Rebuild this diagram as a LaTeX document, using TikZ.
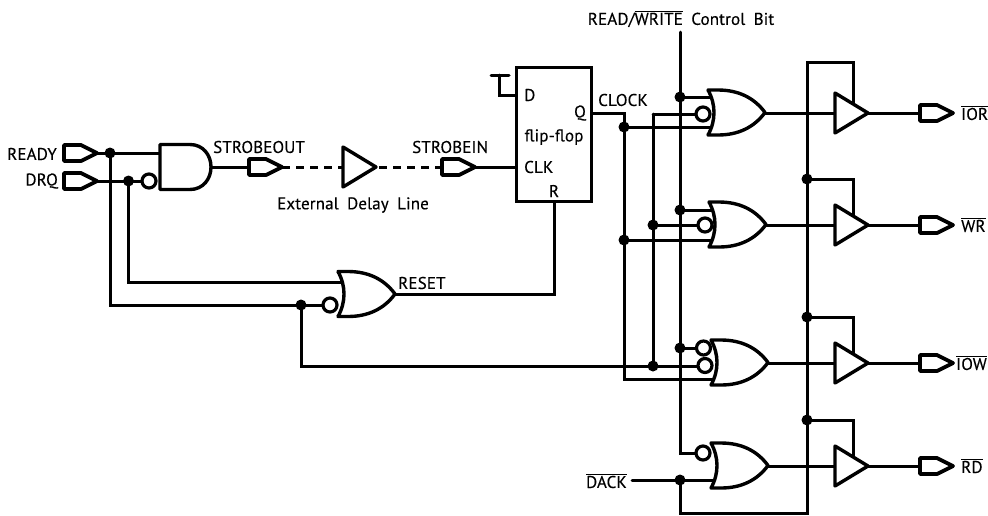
\documentclass[tikz,border=0pt]{standalone}
\usepackage{fontspec}
\setmainfont[LetterSpace=0.8,WordSpace=1.8,FakeBold=0.25]{PT Sans}
\newcommand{\ovl}[1]{\ensuremath{\overline{\mbox{#1}}}}
\tikzset{
  x=1pt,y=-1pt,
  wire/.style={line width=3pt,line cap=round,line join=miter},
  dashwire/.style={line width=3pt,dash pattern=on 8pt off 6pt},
  gateline/.style={line width=3.4pt,line join=round,line cap=round,fill=white},
  portline/.style={line width=3.8pt,line join=round,fill=white},
  jdot/.style={circle,fill=black,inner sep=0pt,minimum size=11pt},
  bub/.style={circle,draw=black,fill=white,line width=3.2pt,inner sep=0pt,minimum size=14pt},
  lbl/.style={inner sep=0pt,font=\fontsize{17}{19}\selectfont},
  orgate/.pic={
    \draw[gateline] (0,-22.5) -- (10,-22.5) .. controls (30,-22.5) and (46,-15) .. (57,0)
       .. controls (46,15) and (30,22.5) .. (10,22.5) -- (0,22.5)
       .. controls (8,8) and (8,-8) .. cycle;
    \coordinate (-out) at (57,0);
  },
  pics/andgate/.style={code={
    \draw[gateline] (0,-22.5) -- (30,-22.5) .. controls (43,-22.5) and (51,-12) .. (51,0)
       .. controls (51,12) and (43,22.5) .. (30,22.5) -- (0,22.5) -- cycle;
    \coordinate (-out) at (51,0);
  }},
  pics/buffer/.style={code={
    \draw[gateline] (0,-20) -- (33,0) -- (0,20) -- cycle;
    \coordinate (-in) at (0,0);
    \coordinate (-out) at (33,0);
  }},
  pics/port/.style={code={
    \draw[portline] (0,-8) -- (17,-8) -- (33,0) -- (17,8) -- (0,8) -- cycle;
    \coordinate (-in) at (0,0);
    \coordinate (-out) at (33,0);
  }},
}
\begin{document}
\begin{tikzpicture}
\useasboundingbox (0,0) rectangle (988,515);
% named points
\coordinate (jReady) at (110,153);
\coordinate (jDrq) at (128.5,181);
\coordinate (jRst) at (301,305);
\coordinate (topRW) at (680,32);
\coordinate (j1a) at (680,97);
\coordinate (j2a) at (680,210);
\coordinate (j3a) at (680,348);
\coordinate (j4b) at (680,480);
\coordinate (jC1) at (624,127);
\coordinate (jC2) at (624,240);
\coordinate (jN2) at (653,225);
\coordinate (jN3) at (653,366);
\coordinate (busTop) at (807,62);
\coordinate (busBot) at (807,513);
\coordinate (jE2) at (807,179);
\coordinate (jE3) at (807,317);
\coordinate (jE4) at (807,420);
\coordinate (dackEnd) at (632,480);
% wires
\draw[wire] (97,153) -- (160,153);
\draw[wire] (97,181) -- (142,181);
\draw[wire] (jReady) |- (jRst) -- (323,305);
\draw[wire] (jDrq) |- (342,282);
\draw[wire] (jRst) |- (698,366);
\draw[wire] (211,167) -- (248,167);
\draw[dashwire] (282,167) -- (343,167);
\draw[dashwire] (379,167) -- (441,167);
\draw[wire] (474,167) -- (516,167);
\draw[wire] (395,294) -- (554,294) -- (554,202);
\draw[wire] (516,95) -- (499,95) -- (499,75);
\draw[wire] (491,75) -- (509,75);
\draw[wire] (592,113) -- (624,113) -- (624,379) -- (714,379);
\draw[wire] (jC1) -- (714,127);
\draw[wire] (jC2) -- (714,240);
\draw[wire] (653,114) -- (653,366);
\draw[wire] (653,114) -- (696,114);
\draw[wire] (jN2) -- (698,225);
\draw[wire] (topRW) |- (696,453);
\draw[wire] (j1a) -- (712,97);
\draw[wire] (j2a) -- (712,210);
\draw[wire] (j3a) -- (696,348);
\draw[wire] (dackEnd) -- (714,480);
\draw[wire] (j4b) |- (busBot) -- (busTop) -| (853,104);
\draw[wire] (jE2) -| (853,215);
\draw[wire] (jE3) -| (853,353);
\draw[wire] (jE4) -| (853,456);
\draw[wire] (765,113) -- (835,113) (868,113) -- (920,113);
\draw[wire] (766,225) -- (835,225) (868,225) -- (920,225);
\draw[wire] (768,363) -- (835,363) (868,363) -- (920,363);
\draw[wire] (768,466) -- (835,466) (868,466) -- (920,466);
% gates
\pic (gAnd) at (160,167) {andgate};
\pic (gRst) at (338,294) {orgate};
\pic (g1) at (708,112.5) {orgate};
\pic (g2) at (709,224.5) {orgate};
\pic (g3) at (711,362.5) {orgate};
\pic (g4) at (711,465.5) {orgate};
\pic (bDelay) at (343,167) {buffer};
\pic (b1) at (835,113) {buffer};
\pic (b2) at (835,225) {buffer};
\pic (b3) at (835,363) {buffer};
\pic (b4) at (835,466) {buffer};
\pic (pReady) at (64,153) {port};
\pic (pDrq) at (64,181) {port};
\pic (pOut) at (249,167) {port};
\pic (pIn) at (442,167) {port};
\pic (pIor) at (920,113) {port};
\pic (pWr) at (920,225) {port};
\pic (pIow) at (920,363) {port};
\pic (pRd) at (920,466) {port};
% flip-flop
\node[draw,line width=3.6pt,minimum width=75pt,minimum height=134pt,inner sep=0pt] (ff) at (554,134.5) {};
% bubbles
\node[bub] (bu0) at (149,181) {};
\node[bub] (bu1) at (330,305) {};
\node[bub] (bu2) at (703,114) {};
\node[bub] (bu3) at (705,225) {};
\node[bub] (bu4) at (703.5,348) {};
\node[bub] (bu5) at (705,365.5) {};
\node[bub] (bu6) at (703,453) {};
% junctions
\foreach \p in {jReady,jDrq,jRst,j1a,j2a,j3a,j4b,jC1,jC2,jN2,jN3,jE2,jE3,jE4}
  \node[jdot] at (\p) {};
% labels
\node[lbl,anchor=east] (tReady) at (57,154) {READY};
\node[lbl,anchor=east] (tDrq) at (58,181) {DRQ};
\node[lbl,anchor=west] (tOut) at (213,147) {STROBEOUT};
\node[lbl,anchor=west] (tIn) at (412,147) {STROBEIN};
\node[lbl,anchor=center] (tExt) at (353,205) {External Delay Line};
\node[lbl,anchor=west] (tD) at (524,95) {D};
\node[lbl,anchor=east] (tQ) at (586,113) {Q};
\node[lbl,anchor=center] (tFf) at (554,137) {flip-flop};
\node[lbl,anchor=west] (tClk) at (524,167) {CLK};
\node[lbl,anchor=center] (tR) at (554,191) {R};
\node[lbl,anchor=west] (tClock) at (598,100) {CLOCK};
\node[lbl,anchor=west] (tReset) at (398,283) {RESET};
\node[lbl,anchor=center] (tRW) at (681,19) {READ/\ovl{WRITE} Control Bit};
\node[lbl,anchor=east] (tDack) at (627,481) {\ovl{DACK}};
\node[lbl,anchor=west] (tIor) at (961,113) {\ovl{IOR}};
\node[lbl,anchor=west] (tWr) at (961,225) {\ovl{WR}};
\node[lbl,anchor=east] (tIow) at (987,363) {\ovl{IOW}};
\node[lbl,anchor=west] (tRd) at (961,466) {\ovl{RD}};
\end{tikzpicture}
\end{document}
